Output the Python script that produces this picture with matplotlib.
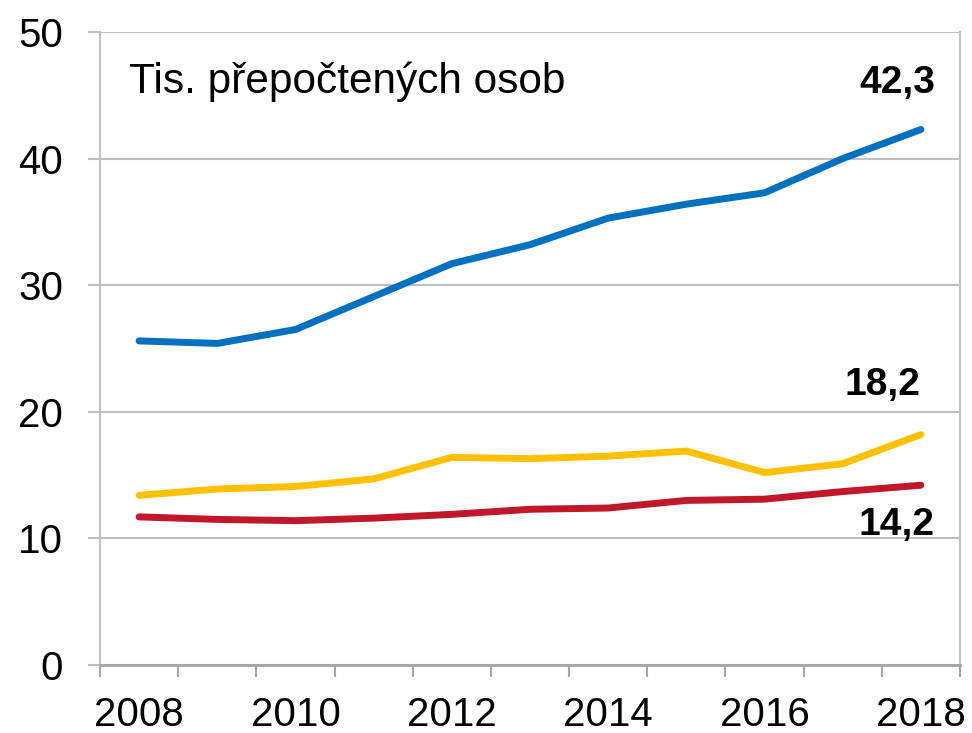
import numpy as np
import matplotlib.pyplot as plt

years = list(range(2008, 2019))
blue = [25.6, 25.4, 26.5, 29.1, 31.7, 33.2, 35.3, 36.4, 37.3, 40.0, 42.3]
yellow = [13.4, 13.9, 14.1, 14.7, 16.4, 16.3, 16.5, 16.9, 15.2, 15.9, 18.2]
red = [11.7, 11.5, 11.4, 11.6, 11.9, 12.3, 12.4, 13.0, 13.1, 13.7, 14.2]

plt.rcParams['font.family'] = ['Liberation Sans', 'DejaVu Sans']

fig = plt.figure(figsize=(9.72, 7.33), dpi=100)
ax = fig.add_axes([100 / 972, 1 - 665 / 733, 860 / 972, 633 / 733])

x = np.arange(len(years))
ax.plot(x, blue, color='#0070C0', lw=5, solid_capstyle='round', zorder=3)
ax.plot(x, yellow, color='#FFC000', lw=5, solid_capstyle='round', zorder=3)
ax.plot(x, red, color='#C0182A', lw=5, solid_capstyle='round', zorder=3)

ax.set_xlim(-0.5, len(years) - 0.5)
ax.set_ylim(0, 50)
ax.set_yticks(range(0, 51, 10))
ax.yaxis.grid(True, color='#BFBFBF', lw=1.5)
ax.set_axisbelow(True)

# ticks between categories, labels for every other year
ax.set_xticks(np.arange(-0.5, len(years)), minor=False)
ax.set_xticklabels([])
ax.set_xticks(x[::2], minor=True)
ax.set_xticklabels([str(y) for y in years[::2]], minor=True)
ax.tick_params(axis='x', which='major', length=8.6, width=1.5, color='#A6A6A6')
ax.tick_params(axis='x', which='minor', length=0, labelsize=29, pad=22)
ax.tick_params(axis='y', length=8.6, width=1.5, color='#BFBFBF', labelsize=29, pad=18)

for s in ['left', 'right', 'top']:
    ax.spines[s].set_color('#BFBFBF')
    ax.spines[s].set_linewidth(1.5)
ax.spines['top'].set_visible(False)
ax.spines['bottom'].set_color('#A6A6A6')
ax.spines['bottom'].set_linewidth(2)

ax.text(0.034, 0.9036, 'Tis. přepočtených osob', transform=ax.transAxes,
        fontsize=30.5, va='baseline', ha='left')

ax.annotate('42,3', (x[-1], blue[-1]), xytext=(-24, 46), textcoords='offset pixels',
            fontsize=28, fontweight='bold', ha='center', va='center')
ax.annotate('18,2', (x[-1], yellow[-1]), xytext=(-38, 50), textcoords='offset pixels',
            fontsize=28, fontweight='bold', ha='center', va='center')
ax.annotate('14,2', (x[-1], red[-1]), xytext=(-24, -40), textcoords='offset pixels',
            fontsize=28, fontweight='bold', ha='center', va='center')

fig.savefig('out.png', dpi=100)
